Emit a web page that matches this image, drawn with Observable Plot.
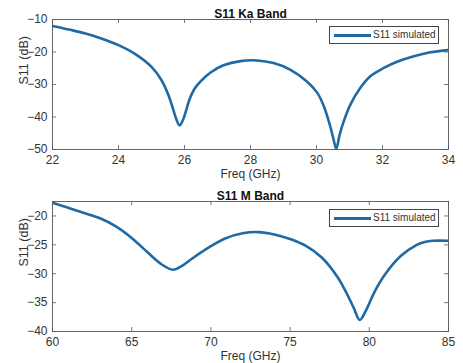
<!DOCTYPE html>
<html><head><meta charset="utf-8">
<script src="https://cdn.jsdelivr.net/npm/d3@7"></script>
<script src="https://cdn.jsdelivr.net/npm/@observablehq/plot@0.6"></script>
<style>
body{margin:0;background:#fff;font-family:"Liberation Sans",Arial,sans-serif;}
#wrap{position:relative;width:463px;height:363px;overflow:hidden;}
#wrap svg{display:block;}
.legend{position:absolute;left:329px;width:108px;height:16px;border:1px solid #444;background:#fff;font-size:10px;color:#333;}
.legend .ln{position:absolute;left:4px;top:7px;width:37px;height:2.6px;background:#1f6aa5;}
.legend .tx{position:absolute;left:43px;top:2px;white-space:nowrap;}
</style>
</head><body>
<div id="wrap"></div>
<script>
// Ka band data
const kaFreq = [22,22.5,23,23.5,24,24.5,25,25.3,25.5,25.65,25.75,25.85,25.95,26.05,26.15,26.3,26.48,26.79,27.18,27.7,28.2,28.7,29.2,29.7,30.02,30.22,30.42,30.52,30.6,30.7,30.83,31.03,31.33,31.64,32.04,32.44,32.95,33.45,34];
const kaS11  = [-12.0,-13.1,-14.3,-15.9,-17.9,-20.6,-24.6,-28.6,-32.9,-37.4,-40.6,-42.6,-41.0,-38.0,-34.6,-31.4,-29.1,-26.3,-24.1,-22.8,-22.6,-23.4,-25.4,-29.0,-32.5,-36.6,-43.0,-47.0,-49.8,-45.5,-41.2,-36.1,-31.0,-27.4,-24.9,-23.0,-21.3,-20.1,-19.4];
const kaXTicks = [22,24,26,28,30,32,34];
const kaYTicks = [-10,-20,-30,-40,-50];

// M band data
const mFreq = [60,61,62,63,64,65,66,66.9,67.6,68.2,68.8,69.9,70.9,72,73,74,75,76,77,78,78.5,79,79.4,79.8,80.3,81,82,83,83.5,84,85];
const mS11  = [-17.7,-18.6,-19.5,-20.4,-21.8,-23.8,-26.3,-28.4,-29.3,-28.6,-27.4,-25.4,-23.9,-23.0,-22.8,-23.2,-24.0,-25.2,-27.2,-30.6,-33.0,-35.8,-38.0,-36.3,-33.3,-30.1,-26.9,-25.0,-24.5,-24.3,-24.3];
const mXTicks = [60,65,70,75,80,85];
const mYTicks = [-20,-25,-30,-35,-40];

const lineColor = "#1f6aa5";
const ink = "#333333";
const frameInk = "#555555";

function panel({title, freq, s11, xDomain, yDomain, xTicks, yTicks, height, marginTop, marginBottom}) {
  const marginLeft = 52, marginRight = 15, width = 463;
  const innerW = width - marginLeft - marginRight;
  const innerH = height - marginTop - marginBottom;
  const data = freq.map((f, i) => ({f, v: s11[i]}));
  const tk = 4;
  return Plot.plot({
    width, height, marginTop, marginBottom, marginLeft, marginRight,
    x: {domain: xDomain},
    y: {domain: yDomain},
    style: {fontFamily: '"Liberation Sans", Arial, sans-serif', fontSize: "11px", color: ink, background: "white", overflow: "visible"},
    marks: [
      Plot.line(data, {x: "f", y: "v", stroke: lineColor, strokeWidth: 2.6, curve: "catmull-rom", clip: true}),
      Plot.frame({stroke: frameInk, strokeWidth: 0.9}),
      // inward ticks on all four sides
      Plot.tickX(xTicks, {x: d => d, stroke: frameInk, strokeWidth: 0.8, insetTop: innerH - tk}),
      Plot.tickX(xTicks, {x: d => d, stroke: frameInk, strokeWidth: 0.8, insetBottom: innerH - tk}),
      Plot.tickY(yTicks, {y: d => d, stroke: frameInk, strokeWidth: 0.8, insetRight: innerW - tk}),
      Plot.tickY(yTicks, {y: d => d, stroke: frameInk, strokeWidth: 0.8, insetLeft: innerW - tk}),
      Plot.axisX({ticks: xTicks, tickSize: 0, tickPadding: 6, label: null, fontSize: 12}),
      Plot.axisY({ticks: yTicks, tickSize: 0, tickPadding: 5, label: null, fontSize: 12}),
      Plot.text([title], {text: d => d, frameAnchor: "top", lineAnchor: "bottom", dy: -2, fontWeight: "bold", fontSize: 12, fill: "#111"}),
      Plot.text(["Freq (GHz)"], {text: d => d, frameAnchor: "bottom", lineAnchor: "top", dy: 20, fontSize: 12, fill: ink}),
      Plot.text(["S11 (dB)"], {text: d => d, frameAnchor: "left", rotate: -90, dx: -29, fontSize: 12.5, fill: ink})
    ]
  });
}

const wrap = document.getElementById("wrap");
wrap.appendChild(panel({title: "S11 Ka Band", freq: kaFreq, s11: kaS11, xDomain: [22, 34], yDomain: [-50, -10], xTicks: kaXTicks, yTicks: kaYTicks, height: 181, marginTop: 19, marginBottom: 32}));
wrap.appendChild(panel({title: "S11 M Band", freq: mFreq, s11: mS11, xDomain: [60, 85], yDomain: [-40, -17.5], xTicks: mXTicks, yTicks: mYTicks, height: 182, marginTop: 20, marginBottom: 32}));

for (const top of [26, 209]) {
  const lg = document.createElement("div");
  lg.className = "legend";
  lg.style.top = top + "px";
  lg.innerHTML = '<div class="ln"></div><div class="tx">S11 simulated</div>';
  wrap.appendChild(lg);
}
</script>
</body></html>
